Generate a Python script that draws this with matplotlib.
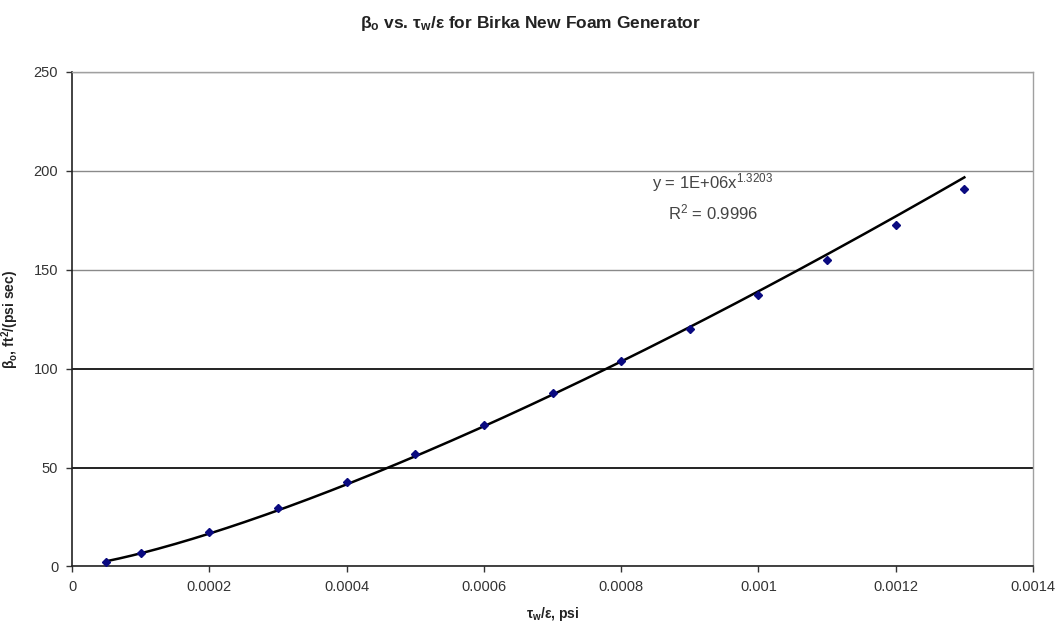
import matplotlib

matplotlib.use("Agg")
import matplotlib.pyplot as plt
import numpy as np

plt.rcParams["font.family"] = ["Liberation Sans", "DejaVu Sans"]
plt.rcParams["mathtext.fontset"] = "custom"
plt.rcParams["mathtext.rm"] = "Liberation Sans"
plt.rcParams["mathtext.it"] = "Liberation Sans"
plt.rcParams["mathtext.bf"] = "Liberation Sans:bold"

# wall shear stress / quality (psi) and slip coefficient
tau_ratio = [0.00005, 0.0001, 0.0002, 0.0003, 0.0004, 0.0005, 0.0006,
             0.0007, 0.0008, 0.0009, 0.0010, 0.0011, 0.0012, 0.0013]
beta = [2.5, 6.7, 17.3, 29.4, 42.9, 56.9, 71.6,
        87.6, 103.6, 120.0, 137.3, 154.9, 172.6, 190.8]

x_ticks = [0, 0.0002, 0.0004, 0.0006, 0.0008, 0.001, 0.0012, 0.0014]
x_tick_labels = ["0", "0.0002", "0.0004", "0.0006", "0.0008", "0.001", "0.0012", "0.0014"]
y_ticks = [0, 50, 100, 150, 200, 250]

fit_label = "y = 1E+06x$^{1.3203}$"
r2_label = "R$^2$ = 0.9996"

x = np.array(tau_ratio)
y = np.array(beta)

# power-law trendline, fitted in log space like Excel does
b, ln_a = np.polyfit(np.log(x), np.log(y), 1)
xf = np.linspace(x.min(), x.max(), 200)
yf = np.exp(ln_a) * xf ** b

fig = plt.figure(figsize=(10.61, 6.27), dpi=100)
ax = fig.add_axes([0.0679, 0.0965, 0.9057, 0.7891])

ax.plot(xf, yf, color="black", lw=1.8, zorder=3)
ax.plot(x, y, linestyle="none", marker="D", ms=4.0, color="#0a0a80",
        markeredgecolor="#0a0a80", zorder=4)

ax.set_xlim(0, 0.0014)
ax.set_ylim(0, 250)
ax.set_xticks(x_ticks)
ax.set_xticklabels(x_tick_labels)
ax.set_yticks(y_ticks)

ax.yaxis.grid(True)
for val, gl in zip(y_ticks, ax.get_ygridlines()):
    if val in (50, 100):
        gl.set_color("#111111")
        gl.set_linewidth(1.3)
    else:
        gl.set_color("#8a8a8a")
        gl.set_linewidth(1.0)
ax.set_axisbelow(True)

for side in ("left", "bottom"):
    ax.spines[side].set_color("#222222")
    ax.spines[side].set_linewidth(1.2)
for side in ("top", "right"):
    ax.spines[side].set_color("#a0a0a0")
    ax.spines[side].set_linewidth(1.0)

ax.tick_params(axis="both", direction="out", length=4, width=1,
               color="#333333", labelsize=10.5, labelcolor="#333333", pad=6)

ax.set_xlabel(r"$\mathbf{\tau_w/\varepsilon}$, psi", fontsize=10, fontweight="bold",
              color="#222222", labelpad=8)
ax.set_ylabel(r"$\mathbf{\beta_o}$, ft$^\mathbf{2}$/(psi sec)", fontsize=10,
              fontweight="bold", color="#222222", labelpad=9)

fig.suptitle(r"$\mathbf{\beta_o}$ vs. $\mathbf{\tau_w/\varepsilon}$ for Birka New Foam Generator",
             fontsize=12.5, fontweight="bold", color="#222222", y=0.978)

ax.text(0.000845, 194, fit_label, fontsize=12, color="#444444", va="center")
ax.text(0.000868, 179, r2_label, fontsize=12, color="#444444", va="center")

fig.savefig("out.png", dpi=100)
